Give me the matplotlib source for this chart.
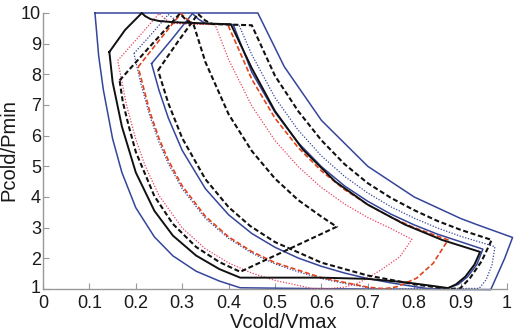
import matplotlib
matplotlib.use("Agg")
import matplotlib.pyplot as plt
from matplotlib.transforms import ScaledTranslation

plt.rcParams['font.family'] = ['Liberation Sans', 'DejaVu Sans']

# ---- data (Vcold/Vmax, Pcold/Pmin) ----
outer_blue_x = [0.112, 0.463, 0.52, 0.6, 0.7, 0.8, 0.9, 0.935, 1.012, 0.995, 0.965, 0.8, 0.6, 0.425,
                0.38, 0.33, 0.28, 0.24, 0.2, 0.17, 0.15, 0.13, 0.12, 0.112]
outer_blue_y = [10, 10, 8.25, 6.5, 5.0, 4.0, 3.3, 3.1, 2.68, 2.0, 0.98, 0.99, 1.01, 1.04,
                1.26, 1.58, 2.08, 2.7, 3.65, 4.8, 5.9, 7.5, 8.6, 10]

black_solid_x = [0.143, 0.177, 0.213, 0.22, 0.232, 0.25, 0.28, 0.405, 0.45, 0.5, 0.56, 0.63, 0.7, 0.78,
                 0.86, 0.942, 0.93, 0.91, 0.89, 0.873, 0.84, 0.78, 0.7, 0.6, 0.425, 0.38, 0.33, 0.28,
                 0.24, 0.2, 0.17, 0.15, 0.143]
black_solid_y = [8.73, 9.45, 10.0, 9.9, 9.8, 9.74, 9.7, 9.63, 8.2, 6.8, 5.55, 4.5, 3.75, 3.1,
                 2.6, 2.21, 1.8, 1.4, 1.15, 1.03, 1.1, 1.22, 1.33, 1.37, 1.37, 1.65, 2.09, 2.74,
                 3.55, 4.8, 6.3, 7.75, 8.73]

black_dash_small_x = [0.165, 0.23, 0.295, 0.31, 0.324, 0.35, 0.4, 0.45, 0.5, 0.55, 0.6, 0.633, 0.425,
                      0.38, 0.33, 0.28, 0.24, 0.2, 0.185, 0.172, 0.165]
black_dash_small_y = [7.8, 8.9, 9.98, 9.75, 9.65, 8.4, 6.7, 5.5, 4.6, 3.9, 3.36, 3.03, 1.56,
                      1.88, 2.37, 3.12, 4.03, 5.47, 6.3, 7.1, 7.8]

black_dash_large_x = [0.248, 0.29, 0.334, 0.35, 0.365, 0.45, 0.5, 0.55, 0.6, 0.65, 0.7, 0.75, 0.8, 0.85,
                      0.9, 0.967, 0.945, 0.92, 0.899, 0.872, 0.8, 0.7, 0.6, 0.5, 0.446, 0.4, 0.35, 0.3,
                      0.27, 0.248]
black_dash_large_y = [8.13, 9.05, 9.97, 9.75, 9.64, 9.6, 7.95, 6.8, 5.85, 5.07, 4.45, 3.97, 3.57, 3.22,
                      2.93, 2.6, 1.9, 1.35, 1.02, 1.0, 1.155, 1.44, 1.86, 2.53, 3.06, 3.67, 4.58, 5.92,
                      7.06, 8.13]

pink_dot_x = [0.161, 0.205, 0.25, 0.265, 0.28, 0.371, 0.4, 0.45, 0.5, 0.55, 0.6, 0.65, 0.7, 0.75, 0.795,
              0.769, 0.733, 0.705, 0.68, 0.65, 0.62, 0.58, 0.5, 0.45, 0.4, 0.35, 0.3, 0.25, 0.22, 0.2,
              0.18, 0.161]
pink_dot_y = [8.45, 9.2, 9.98, 9.78, 9.66, 9.62, 8.48, 6.97, 5.84, 4.99, 4.31, 3.77, 3.33, 2.97, 2.62,
              2.05, 1.67, 1.4, 1.2, 1.06, 1.02, 1.02, 1.28, 1.52, 1.85, 2.31, 2.99, 4.05, 5.02, 5.88,
              7.0, 8.45]

red_dash_x = [0.205, 0.25, 0.297, 0.31, 0.325, 0.398, 0.45, 0.5, 0.55, 0.6, 0.65, 0.7, 0.75, 0.8, 0.873,
              0.841, 0.805, 0.762, 0.741, 0.726, 0.7, 0.6, 0.5, 0.45, 0.4, 0.35, 0.3, 0.27, 0.25, 0.23,
              0.205]
red_dash_y = [8.24, 9.1, 9.98, 9.8, 9.66, 9.63, 7.84, 6.57, 5.61, 4.85, 4.24, 3.75, 3.34, 3.0, 2.6,
              1.84, 1.35, 1.07, 1.02, 1.02, 1.06, 1.37, 1.86, 2.22, 2.7, 3.37, 4.36, 5.2, 5.91, 6.79,
              8.24]

blue_solid_x = [0.234, 0.278, 0.322, 0.335, 0.35, 0.41, 0.45, 0.5, 0.55, 0.6, 0.65, 0.7, 0.75, 0.8, 0.85,
                0.9, 0.948, 0.935, 0.915, 0.895, 0.87, 0.836, 0.8, 0.75, 0.7, 0.65, 0.6, 0.55, 0.5,
                0.45, 0.4, 0.35, 0.3, 0.27, 0.25, 0.234]
blue_solid_y = [8.35, 9.15, 9.98, 9.8, 9.66, 9.62, 8.07, 6.76, 5.77, 4.99, 4.36, 3.86, 3.44, 3.09, 2.79,
                2.54, 2.3, 1.8, 1.4, 1.15, 1.02, 1.0, 1.08, 1.2, 1.34, 1.52, 1.74, 2.01, 2.36,
                2.81, 3.42, 4.27, 5.52, 6.58, 7.48, 8.35]

blue_dot_x = [0.196, 0.233, 0.27, 0.283, 0.295, 0.422, 0.45, 0.5, 0.55, 0.6, 0.65, 0.7, 0.75, 0.8, 0.85,
              0.9, 0.974, 0.968, 0.955, 0.94, 0.717, 0.65, 0.6, 0.55, 0.5, 0.45, 0.4, 0.35, 0.3, 0.27,
              0.25, 0.23, 0.21, 0.196]
blue_dot_y = [8.68, 9.3, 9.95, 9.8, 9.66, 9.62, 8.64, 7.24, 6.18, 5.34, 4.67, 4.13, 3.68, 3.31, 2.99,
              2.72, 2.38, 1.8, 1.3, 1.02, 1.0, 1.18, 1.34, 1.56, 1.82, 2.17, 2.65, 3.3, 4.27, 5.09,
              5.79, 6.65, 7.75, 8.68]

x_ticks = [0, 0.1, 0.2, 0.3, 0.4, 0.5, 0.6, 0.7, 0.8, 0.9, 1]
x_tick_labels = ['0', '0.1', '0.2', '0.3', '0.4', '0.5', '0.6', '0.7', '0.8', '0.9', '1']
y_ticks = [1, 2, 3, 4, 5, 6, 7, 8, 9, 10]
y_tick_labels = ['1', '2', '3', '4', '5', '6', '7', '8', '9', '10']

# ---- drawing ----
fig = plt.figure(figsize=(5.28, 3.31), dpi=100)
ax = fig.add_axes([43 / 528, 1 - 289 / 331, 464 / 528, 276 / 331])

navy = '#34459a'
ax.plot(outer_blue_x, outer_blue_y, color=navy, lw=1.1, clip_on=False)
ax.plot(blue_dot_x, blue_dot_y, color=navy, lw=0.9, ls=(0, (1, 1.3)), clip_on=False)
ax.plot(blue_solid_x, blue_solid_y, color=navy, lw=1.1, clip_on=False)
ax.plot(pink_dot_x, pink_dot_y, color='#e8435f', lw=0.9, ls=(0, (1, 1.3)), clip_on=False)
ax.plot(red_dash_x, red_dash_y, color='#e2431c', lw=1.2, ls=(0, (3, 1.5)), clip_on=False)
ax.plot(black_solid_x, black_solid_y, color='#111111', lw=1.4, clip_on=False)
ax.plot(black_dash_small_x, black_dash_small_y, color='#111111', lw=1.5, ls=(0, (2.4, 1.3)), clip_on=False)
ax.plot(black_dash_large_x, black_dash_large_y, color='#111111', lw=1.5, ls=(0, (2.4, 1.3)), clip_on=False)

ax.set_xlim(0, 1)
ax.set_ylim(1, 10)
ax.set_xticks(x_ticks)
ax.set_xticklabels(x_tick_labels)
ax.set_yticks(y_ticks)
ax.set_yticklabels(y_tick_labels)

for s in ('top', 'right'):
    ax.spines[s].set_visible(False)
for s in ('left', 'bottom'):
    ax.spines[s].set_color('#999999')
    ax.spines[s].set_linewidth(1.0)

ax.tick_params(axis='both', direction='in', length=4, width=0.8, color='#999999',
               labelsize=13, labelcolor='#1a1a1a')
ax.tick_params(axis='x', pad=4.5)
ax.tick_params(axis='y', pad=1.5)

# lift the bottom y label "1" slightly, as in the reference
first_ylabel = ax.get_yticklabels()[0]
first_ylabel.set_transform(first_ylabel.get_transform() + ScaledTranslation(0, 2 / 72, fig.dpi_scale_trans))

fig.text(284 / 528, 1 - 322 / 331, 'Vcold/Vmax', ha='center', va='center', fontsize=14.5, color='#1a1a1a')
fig.text(9 / 528, 1 - 150 / 331, 'Pcold/Pmin', ha='center', va='center', rotation=90, fontsize=14.5,
         color='#1a1a1a')

fig.savefig('out.png', dpi=100)
